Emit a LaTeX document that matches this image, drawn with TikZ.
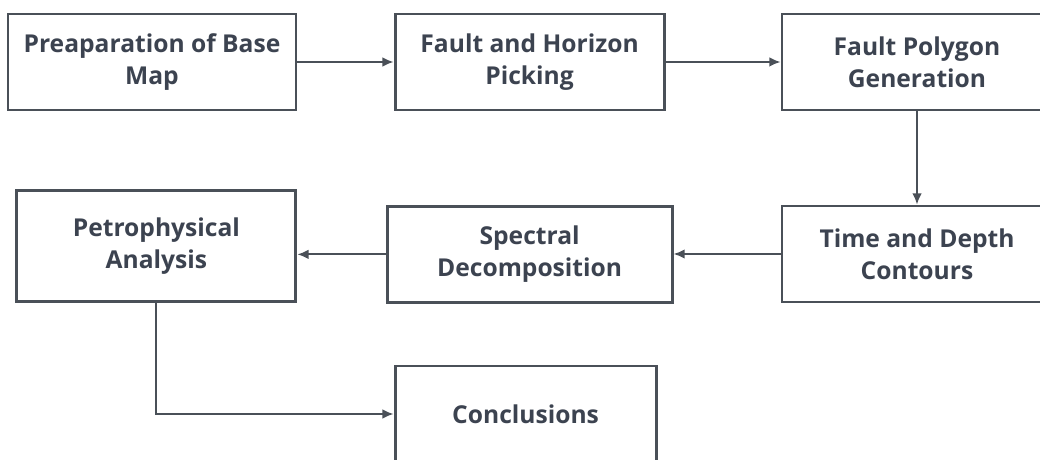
\documentclass[tikz,border=0pt]{standalone}
\usepackage{fontspec}
\setmainfont{Open Sans}
\usepackage{tikz}
\usetikzlibrary{arrows.meta}
\definecolor{boxgray}{HTML}{4A5058}
\definecolor{txtgray}{HTML}{3C4350}
\tikzset{
stage/.style={draw=boxgray,line width=2pt,fill=white,align=center,text=txtgray,
  font=\fontsize{17.5}{22.7}\selectfont\bfseries,minimum height=2.4cm,inner sep=0pt},
flow/.style={draw=boxgray,line width=1.4pt,-{Latex[length=2.8mm,width=2.4mm]}}
}
\begin{document}
\begin{tikzpicture}
\useasboundingbox (0,0) rectangle (26,-11.5);
\clip (0,0) rectangle (26,-11.5);
\node[stage,minimum width=7.2cm] (A) at (3.8,-1.55){Preaparation of Base\\Map};
\node[stage,minimum width=6.725cm] (B) at (13.24,-1.55){Fault and Horizon\\Picking};
\node[stage,minimum width=6.75cm] (C) at (22.925,-1.55){Fault Polygon\\Generation};
\node[stage,minimum width=6.75cm] (D) at (22.925,-6.35){Time and Depth\\Contours};
\node[stage,minimum width=7.125cm] (E) at (13.24,-6.36){Spectral\\Decomposition};
\node[stage,minimum width=6.975cm,minimum height=2.775cm] (F) at (3.91,-6.16){Petrophysical\\Analysis};
\node[stage,minimum width=6.525cm] (G) at (13.14,-10.35){Conclusions};
\draw[flow] (A.east)--(B.west);
\draw[flow] (B.east)--(C.west);
\draw[flow] (C.south)--(D.north);
\draw[flow] (D.west)--(D.west -| E.east);
\draw[flow] (E.west)--(E.west -| F.east);
\draw[flow] (F.south)|-(G.west);
\end{tikzpicture}
\end{document}
